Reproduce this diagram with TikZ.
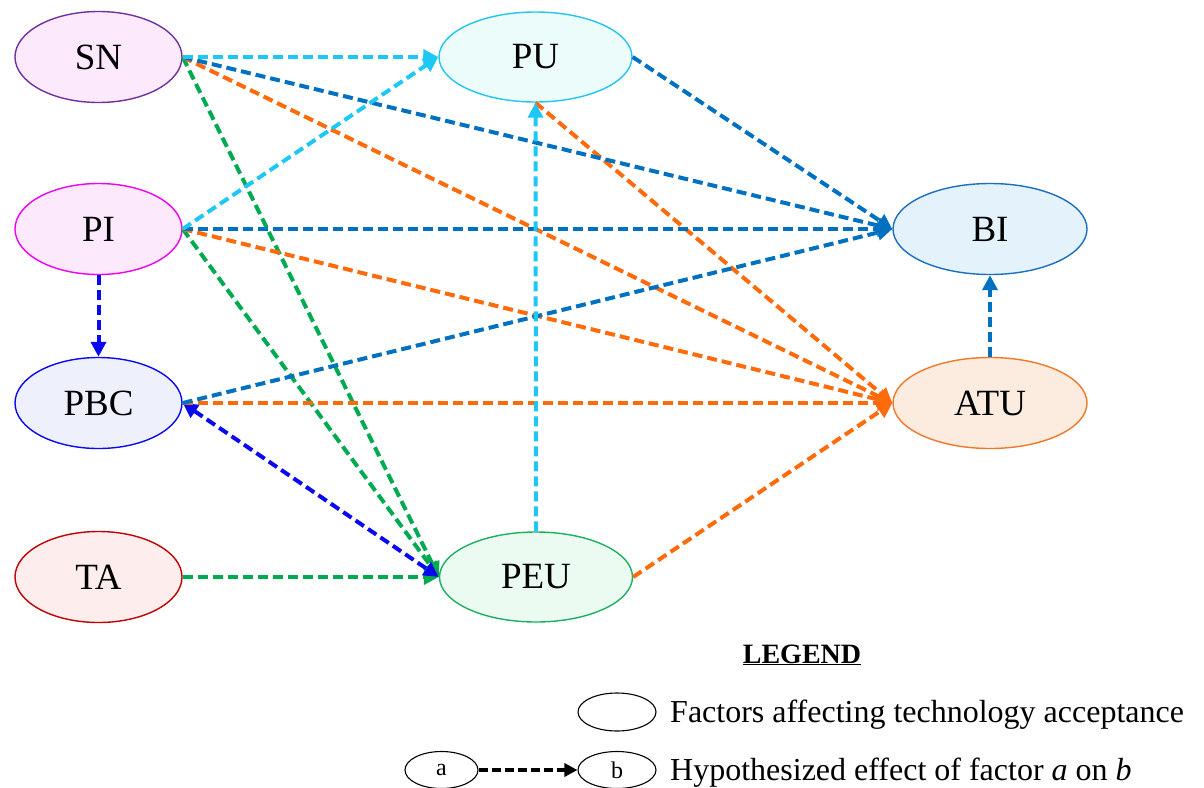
\documentclass[tikz,border=0pt]{standalone}
\usepackage{fontspec}
\setmainfont{Liberation Serif}
\usetikzlibrary{shapes.geometric,arrows.meta}

% outline / fill colours of the factors
\definecolor{snLine}{HTML}{7030A0}\definecolor{snFill}{HTML}{FCE9FC}
\definecolor{piLine}{HTML}{F000F0}\definecolor{piFill}{HTML}{FCE9FC}
\definecolor{pbcLine}{HTML}{0A0AEE}\definecolor{pbcFill}{HTML}{EEF0FC}
\definecolor{taLine}{HTML}{C00000}\definecolor{taFill}{HTML}{FDEDED}
\definecolor{puLine}{HTML}{22C4F2}\definecolor{puFill}{HTML}{EBFCFB}
\definecolor{peuLine}{HTML}{1DB060}\definecolor{peuFill}{HTML}{EBFBF2}
\definecolor{biLine}{HTML}{1C6FC0}\definecolor{biFill}{HTML}{E4F2FC}
\definecolor{atuLine}{HTML}{F07828}\definecolor{atuFill}{HTML}{FCECE0}
% connector colours
\definecolor{eCyan}{HTML}{1EC8F5}
\definecolor{eBlue}{HTML}{0070C0}
\definecolor{eNavy}{HTML}{0A0AF0}
\definecolor{eOrange}{HTML}{FF6A0A}
\definecolor{eGreen}{HTML}{00AA50}

\begin{document}
\begin{tikzpicture}[x=1pt,y=-1pt,
  factor/.style={ellipse, draw, line width=1.4pt, inner sep=0pt,
    font=\fontsize{37}{40}\selectfont},
  leftf/.style={factor, minimum width=167pt, minimum height=91pt},
  midf/.style={factor, minimum width=193pt, minimum height=90pt},
  rightf/.style={factor, minimum width=194pt, minimum height=91pt},
  tip/.tip={Triangle[length=15pt,width=15pt]},
  link/.style={line width=4pt, dash pattern=on 10pt off 5pt, -tip},
  twoway/.style={link, tip-tip},
  legf/.style={ellipse, draw, line width=1.1pt, inner sep=0pt,
    font=\fontsize{24}{28}\selectfont},
  legtext/.style={anchor=base west, inner sep=0pt,
    font=\fontsize{32}{36}\selectfont}
]
\useasboundingbox (0,0) rectangle (1204,787);

% factors
\node[leftf, draw=snLine, fill=snFill]   (SN)  at (98.5,57)  {SN};
\node[leftf, draw=piLine, fill=piFill]   (PI)  at (98.5,229) {PI};
\node[leftf, draw=pbcLine, fill=pbcFill] (PBC) at (98.5,403) {PBC};
\node[leftf, draw=taLine, fill=taFill]   (TA)  at (98.5,577) {TA};
\node[midf, draw=puLine, fill=puFill]    (PU)  at (535.5,57) {PU};
\node[midf, draw=peuLine, fill=peuFill]  (PEU) at (536,577)  {PEU};
\node[rightf, draw=biLine, fill=biFill]  (BI)  at (990,229)  {BI};
\node[rightf, draw=atuLine, fill=atuFill](ATU) at (990,403)  {ATU};

% effects on PEU
\draw[link, eGreen] (SN.east) -- (PEU.west);
\draw[link, eGreen] (PI.east) -- (PEU.west);
\draw[link, eGreen] (TA.east) -- (PEU.west);
\draw[twoway, eNavy] (PBC.east) -- (PEU.west);
\draw[link, eNavy] (PI.south) -- (PBC.north);

% effects on ATU
\draw[link, eOrange] (SN.east) -- (ATU.west);
\draw[link, eOrange] (PI.east) -- (ATU.west);
\draw[link, eOrange] (PBC.east) -- (ATU.west);
\draw[link, eOrange] (PU.south) -- (ATU.west);
\draw[link, eOrange] (PEU.east) -- (ATU.west);

% effects on BI
\draw[link, eBlue] (SN.east) -- (BI.west);
\draw[link, eBlue] (PI.east) -- (BI.west);
\draw[link, eBlue] (PBC.east) -- (BI.west);
\draw[link, eBlue] (PU.east) -- (BI.west);
\draw[link, eBlue] (ATU.north) -- (BI.south);

% effects on PU
\draw[link, eCyan] (SN.east) -- (PU.west);
\draw[link, eCyan] (PI.east) -- (PU.west);
\draw[link, eCyan] (PEU.north) -- (PU.south);

% legend
\node[anchor=base, inner sep=0pt, font=\fontsize{28}{32}\selectfont\bfseries]
  (legtitle) at (802,663) {\underline{LEGEND}};
\node[legf, minimum width=78pt, minimum height=38pt] (legF) at (617,712) {};
\node[legtext] (legFtxt) at (670,722) {Factors affecting technology acceptance};
\node[legf, minimum width=73pt, minimum height=37pt] (legA) at (441.5,770) {a};
\node[legf, minimum width=78pt, minimum height=37pt] (legB) at (617,770) {b};
\draw[line width=3.5pt, dash pattern=on 9pt off 4pt,
  -{Triangle[length=13pt,width=13pt]}] (legA.east) -- (legB.west);
\node[legtext] (legHtxt) at (670,780)
  {Hypothesized effect of factor \textit{a} on \textit{b}};
\end{tikzpicture}
\end{document}
